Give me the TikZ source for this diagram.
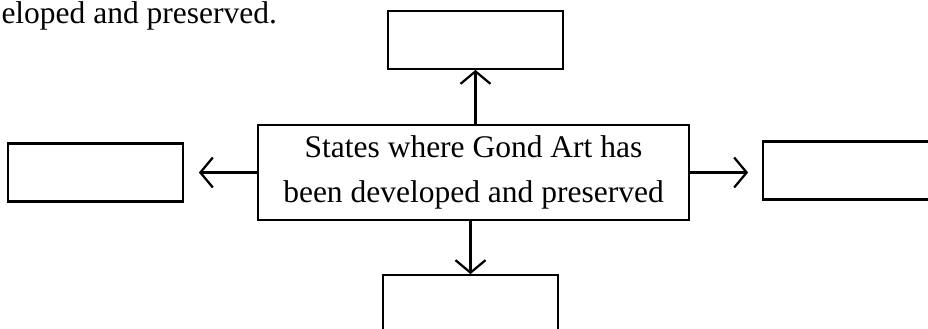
\documentclass[tikz,border=0pt]{standalone}
\usepackage{fontspec}
\setmainfont{Liberation Serif}
\usetikzlibrary{arrows.meta, positioning}
\tikzstyle{mainbox} = [
	rectangle, 
	minimum width=172.4pt,
	minimum height=38pt, 
	align=center, 
	text centered, 
	draw=black, 
	line width=0.9pt]
\tikzstyle{emptybox} = [
	rectangle, 
	minimum width=70pt, 
	minimum height=23.2pt,
	draw=black, 
	line width=0.9pt]
\tikzstyle{arrow} = [-{Straight Barb[length=5pt,width=12pt]}, line width=0.9pt]

\begin{document}
\begin{tikzpicture}[x=0.4pt, y=-0.4pt, font=\fontsize{12.6}{18}\selectfont]
\useasboundingbox (0,0) rectangle (928,328);
\clip (0,0) rectangle (928,328);

% --- Nodes ---
\node (caption) [anchor=base west, inner sep=0pt] at (1,23) {eloped and preserved.};
\node (states) [mainbox] at (473.5,172.5) {States where Gond Art has \\ been developed and preserved};

\node (north) [emptybox, above=21.6pt of states, xshift=0.8pt] {};
\node (south) [emptybox, below=21.2pt of states, xshift=-1.2pt] {};
\node (west) [emptybox, left=29.2pt of states] {};
\node (east) [emptybox, right=28.8pt of states, yshift=0.8pt] {};

% --- Arrows ---
\draw [arrow] (states.north -| north.south) -- (north.south);
\draw [arrow] (states.south -| south.north) -- (south.north);
\draw [arrow, shorten >=6pt] (states.west) -- (west.east);
\draw [arrow, shorten >=5.6pt] (states.east) -- (states.east -| east.west);

\end{tikzpicture}
\end{document}
